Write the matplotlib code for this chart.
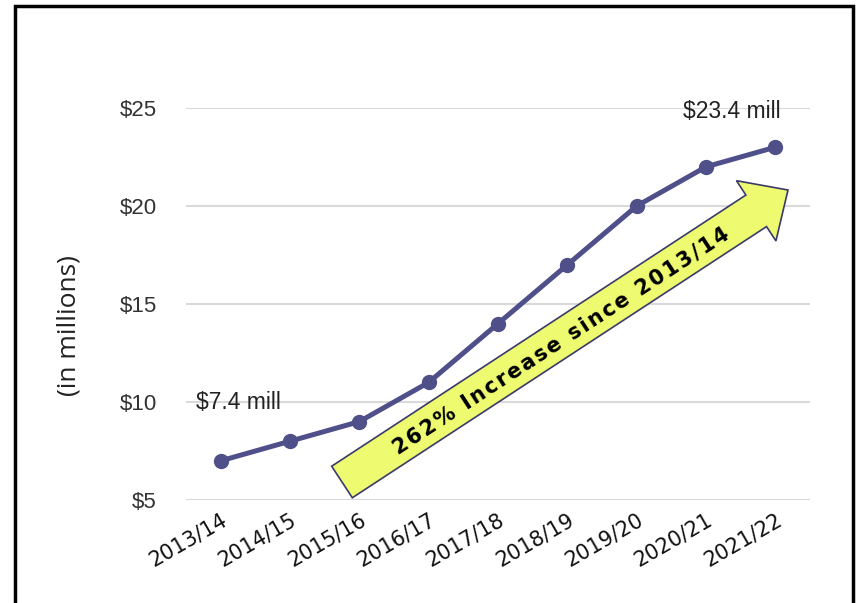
import matplotlib

matplotlib.use("Agg")
import matplotlib.pyplot as plt
from matplotlib.patches import FancyArrow, Rectangle

# datos
anios = ["2013/14", "2014/15", "2015/16", "2016/17", "2017/18",
         "2018/19", "2019/20", "2020/21", "2021/22"]
valores = [7, 8, 9, 11, 14, 17, 20, 22, 23]
ticks_y = [5, 10, 15, 20, 25]
etiqueta_ini = "$7.4 mill"
etiqueta_fin = "$23.4 mill"
texto_flecha = "262% Increase since 2013/14"

LINEA = "#4f4f8a"
AMARILLO = "#eefa70"
GRIS = "#d9d9d9"

fig = plt.figure(figsize=(8.56, 6.03), dpi=100)
ax = fig.add_axes([0.2173, 0.1708, 0.729, 0.6501])

x = [i + 0.5 for i in range(len(anios))]
ax.plot(x, valores, color=LINEA, lw=3.6, marker="o", ms=10, clip_on=False, zorder=3)

ax.set_xlim(0, len(anios))
ax.set_ylim(5, 25)
ax.set_yticks(ticks_y)
ax.set_yticklabels([f"${v}" for v in ticks_y], family="Liberation Sans",
                   fontsize=16, color="#333333")
ax.set_xticks(x)
ax.set_xticklabels(anios, rotation=30, ha="right", rotation_mode="anchor",
                   family="DejaVu Sans", fontsize=15, color="#111111")
ax.tick_params(length=0, axis="y", pad=21)
ax.tick_params(length=0, axis="x", pad=7)
ax.grid(axis="y", color=GRIS, lw=1.5)
ax.set_axisbelow(True)
for s in ax.spines.values():
    s.set_visible(False)

ax.set_ylabel("(in millions)", family="Open Sans", fontsize=19, color="#222222")
ax.yaxis.set_label_coords(-0.168, 0.446)

ax.annotate(etiqueta_ini, (x[0], valores[0]), xytext=(-18, 42),
            textcoords="offset points", family="Liberation Sans", fontsize=16.5,
            color="#222222", ha="left", va="center")
ax.annotate(etiqueta_fin, (x[-1], valores[-1]), xytext=(-31, 26),
            textcoords="offset points", family="Liberation Sans", fontsize=16.5,
            color="#222222", ha="center", va="center")

# flecha de crecimiento (coordenadas en pulgadas de figura)
tr = fig.dpi_scale_trans
x0, y0 = 3.42, 1.21
x1, y1 = 7.88, 4.13
flecha = FancyArrow(x0, y0, x1 - x0, y1 - y0, width=0.377, head_width=0.72,
                    head_length=0.38, length_includes_head=True,
                    transform=tr, facecolor=AMARILLO, edgecolor="#3a3a6a",
                    lw=1.2, zorder=4)
fig.add_artist(flecha)
espaciado = "\u200a".join(texto_flecha)
fig.text(5.61, 2.62, espaciado, transform=tr, rotation=33.2,
         rotation_mode="anchor", ha="center", va="center",
         family="DejaVu Sans", fontweight="bold", fontsize=15, color="black",
         zorder=5)

# marco exterior
fig.add_artist(Rectangle((15 / 856, -0.05), 838 / 856, 1.05 - 6 / 603,
                         transform=fig.transFigure, fill=False,
                         edgecolor="black", lw=2.5))

fig.savefig("out.png", dpi=100)
